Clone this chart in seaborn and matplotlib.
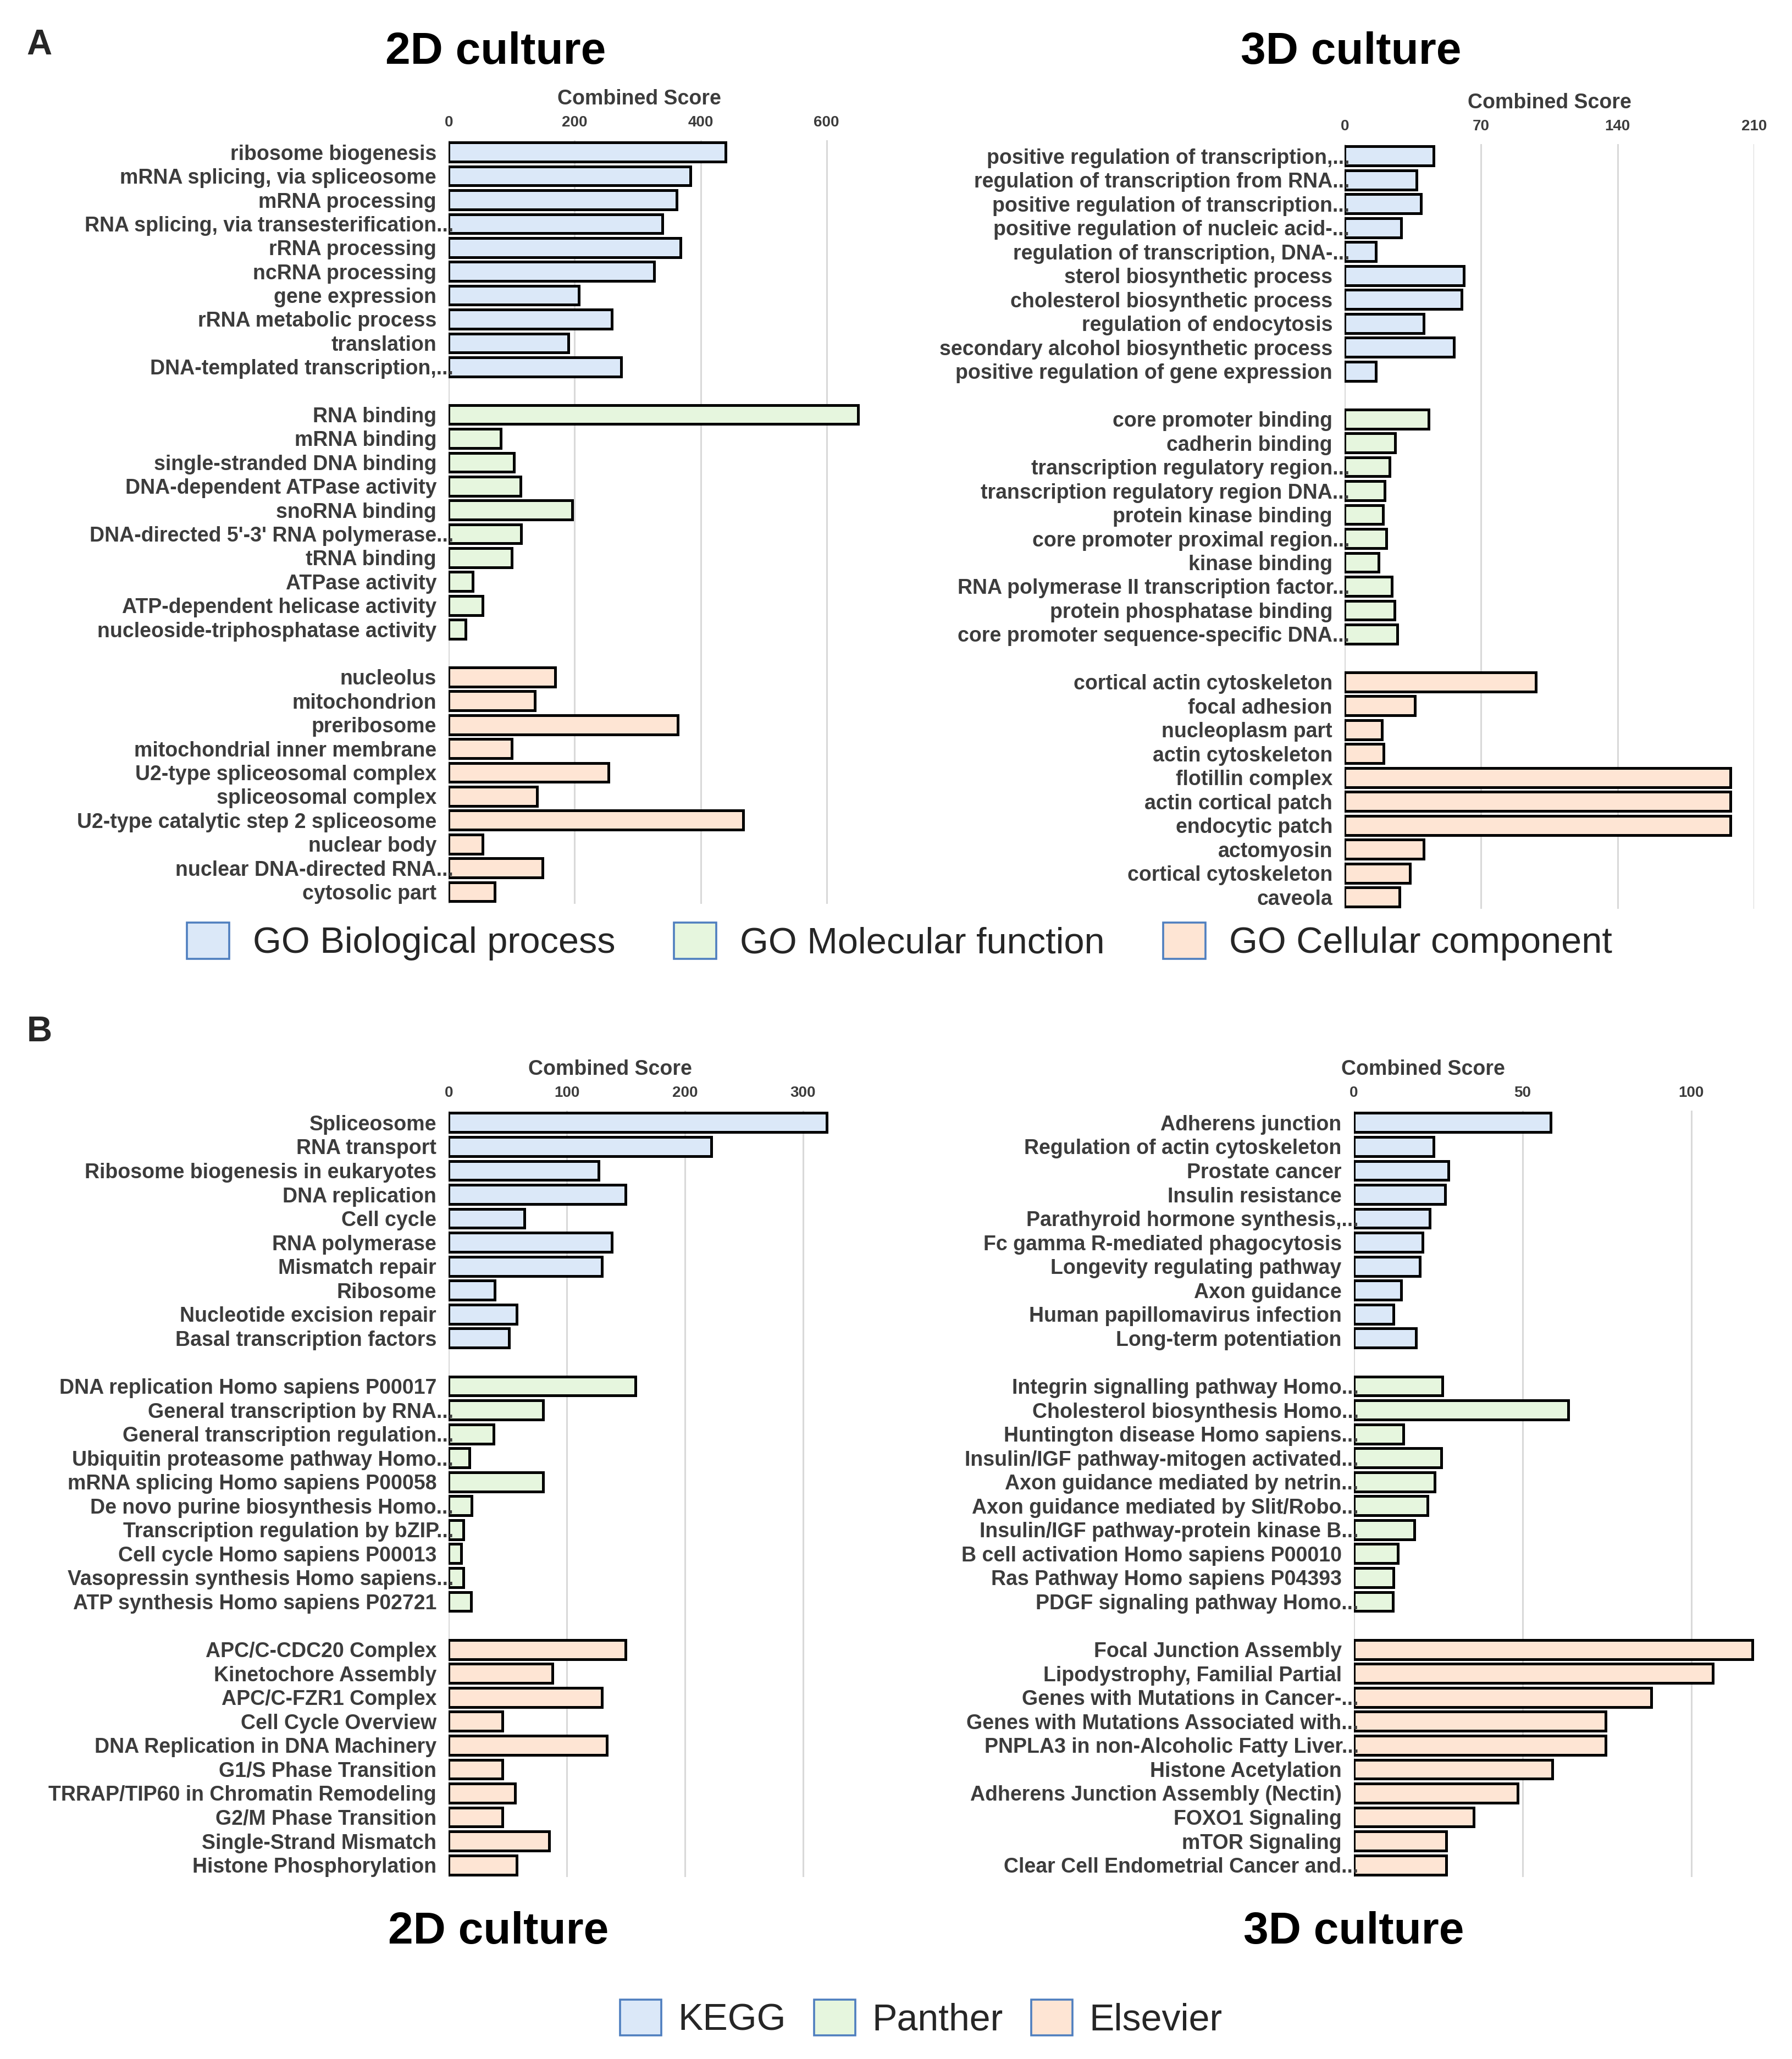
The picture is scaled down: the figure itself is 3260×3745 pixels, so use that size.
import matplotlib
matplotlib.use("Agg")
import matplotlib.pyplot as plt
import matplotlib.transforms as mtransforms
from matplotlib.patches import Patch
import numpy as np
import pandas as pd
import seaborn as sns

# ---------------- DATA ----------------
# Panel A, 2D culture
a2d_bp_terms = ["ribosome biogenesis", "mRNA splicing, via spliceosome", "mRNA processing",
                "RNA splicing, via transesterification...", "rRNA processing", "ncRNA processing",
                "gene expression", "rRNA metabolic process", "translation", "DNA-templated transcription,..."]
a2d_bp_scores = [440, 384, 362, 339, 368, 326, 207, 259, 190, 274]
a2d_mf_terms = ["RNA binding", "mRNA binding", "single-stranded DNA binding", "DNA-dependent ATPase activity",
                "snoRNA binding", "DNA-directed 5'-3' RNA polymerase...", "tRNA binding", "ATPase activity",
                "ATP-dependent helicase activity", "nucleoside-triphosphatase activity"]
a2d_mf_scores = [650, 83, 104, 114, 196, 115, 100, 38, 54, 27]
a2d_cc_terms = ["nucleolus", "mitochondrion", "preribosome", "mitochondrial inner membrane",
                "U2-type spliceosomal complex", "spliceosomal complex", "U2-type catalytic step 2 spliceosome",
                "nuclear body", "nuclear DNA-directed RNA...", "cytosolic part"]
a2d_cc_scores = [169, 137, 364, 100, 254, 140, 468, 54, 149, 73]
a2d_ticks = [0, 200, 400, 600]

# Panel A, 3D culture
a3d_bp_terms = ["positive regulation of transcription,...", "regulation of transcription from RNA...",
                "positive regulation of transcription...", "positive regulation of nucleic acid-...",
                "regulation of transcription, DNA-...", "sterol biosynthetic process",
                "cholesterol biosynthetic process", "regulation of endocytosis",
                "secondary alcohol biosynthetic process", "positive regulation of gene expression"]
a3d_bp_scores = [45.5, 37, 39, 29, 16, 61, 60, 40.5, 56, 16]
a3d_mf_terms = ["core promoter binding", "cadherin binding", "transcription regulatory region...",
                "transcription regulatory region DNA...", "protein kinase binding",
                "core promoter proximal region...", "kinase binding",
                "RNA polymerase II transcription factor...", "protein phosphatase binding",
                "core promoter sequence-specific DNA..."]
a3d_mf_scores = [43, 26, 23, 20.5, 19.6, 21.4, 17.3, 24.3, 25.5, 27]
a3d_cc_terms = ["cortical actin cytoskeleton", "focal adhesion", "nucleoplasm part", "actin cytoskeleton",
                "flotillin complex", "actin cortical patch", "endocytic patch", "actomyosin",
                "cortical cytoskeleton", "caveola"]
a3d_cc_scores = [98, 36, 19, 20, 198, 198, 198, 40.5, 33.4, 28]
a3d_ticks = [0, 70, 140, 210]

# Panel B, 2D culture
b2d_kegg_terms = ["Spliceosome", "RNA transport", "Ribosome biogenesis in eukaryotes", "DNA replication",
                  "Cell cycle", "RNA polymerase", "Mismatch repair", "Ribosome",
                  "Nucleotide excision repair", "Basal transcription factors"]
b2d_kegg_scores = [320, 222.5, 127, 150, 64, 138, 130, 39, 57.5, 51]
b2d_panther_terms = ["DNA replication Homo sapiens P00017", "General transcription by RNA...",
                     "General transcription regulation...", "Ubiquitin proteasome pathway Homo...",
                     "mRNA splicing Homo sapiens P00058", "De novo purine biosynthesis Homo...",
                     "Transcription regulation by bZIP...", "Cell cycle Homo sapiens P00013",
                     "Vasopressin synthesis Homo sapiens...", "ATP synthesis Homo sapiens P02721"]
b2d_panther_scores = [158, 80, 38, 17.4, 80, 19.4, 12.6, 10.6, 12.6, 19]
b2d_els_terms = ["APC/C-CDC20 Complex", "Kinetochore Assembly", "APC/C-FZR1 Complex", "Cell Cycle Overview",
                 "DNA Replication in DNA Machinery", "G1/S Phase Transition",
                 "TRRAP/TIP60 in Chromatin Remodeling", "G2/M Phase Transition", "Single-Strand Mismatch",
                 "Histone Phosphorylation"]
b2d_els_scores = [150, 88, 130, 45.5, 134, 45.5, 56, 45.5, 85, 57.5]
b2d_ticks = [0, 100, 200, 300]

# Panel B, 3D culture
b3d_kegg_terms = ["Adherens junction", "Regulation of actin cytoskeleton", "Prostate cancer",
                  "Insulin resistance", "Parathyroid hormone synthesis,...", "Fc gamma R-mediated phagocytosis",
                  "Longevity regulating pathway", "Axon guidance", "Human papillomavirus infection",
                  "Long-term potentiation"]
b3d_kegg_scores = [58.4, 23.7, 28, 27, 22.5, 20.3, 19.6, 14, 11.8, 18.4]
b3d_panther_terms = ["Integrin signalling pathway Homo...", "Cholesterol biosynthesis Homo...",
                     "Huntington disease Homo sapiens...", "Insulin/IGF pathway-mitogen activated...",
                     "Axon guidance mediated by netrin...", "Axon guidance mediated by Slit/Robo...",
                     "Insulin/IGF pathway-protein kinase B...", "B cell activation Homo sapiens P00010",
                     "Ras Pathway Homo sapiens P04393", "PDGF signaling pathway Homo..."]
b3d_panther_scores = [26.2, 63.5, 14.7, 25.9, 24, 21.8, 18, 13.1, 11.8, 11.6]
b3d_els_terms = ["Focal Junction Assembly", "Lipodystrophy, Familial Partial", "Genes with Mutations in Cancer-...",
                 "Genes with Mutations Associated with...", "PNPLA3 in non-Alcoholic Fatty Liver...",
                 "Histone Acetylation", "Adherens Junction Assembly (Nectin)", "FOXO1 Signaling",
                 "mTOR Signaling", "Clear Cell Endometrial Cancer and..."]
b3d_els_scores = [118.2, 106.5, 88.2, 74.6, 74.6, 58.8, 48.6, 35.6, 27.4, 27.4]
b3d_ticks = [0, 50, 100]

go_sources = ["GO Biological process", "GO Molecular function", "GO Cellular component"]
db_sources = ["KEGG", "Panther", "Elsevier"]
fill_colors = ["#dbe8f8", "#e6f6de", "#fee5d4"]

# ---------------- STYLE ----------------
sns.set_theme(style="white")
plt.rcParams["font.family"] = ["Liberation Sans", "DejaVu Sans"]

LABEL_COLOR = "#3c3c3c"
GRID_COLOR = "#d9d9d9"

fig = plt.figure(figsize=(32.6, 37.45), dpi=100)


def make_df(groups, sources):
    rows = []
    order = []
    for gi, (terms, scores) in enumerate(groups):
        for t, s in zip(terms, scores):
            rows.append({"term": t, "score": s, "source": sources[gi]})
        order.extend(terms)
        if gi < len(groups) - 1:
            order.append(" " * (gi + 1))
    return pd.DataFrame(rows), order


def draw_panel(rect, groups, sources, ticks, xmax, label_x):
    ax = fig.add_axes(rect)
    df, order = make_df(groups, sources)
    pal = dict(zip(sources, fill_colors))
    sns.barplot(data=df, x="score", y="term", hue="source", order=order, hue_order=sources,
                palette=pal, dodge=False, width=0.8, edgecolor="black", linewidth=3.6,
                saturation=1, legend=False, ax=ax, orient="h")
    ax.set_xlim(0, xmax)
    ax.set_ylim(len(order) - 0.5, -0.5)
    ax.xaxis.tick_top()
    ax.xaxis.set_label_position("top")
    ax.set_xticks(ticks)
    ax.set_xticklabels([str(t) for t in ticks])
    ax.set_xlabel("Combined Score", fontsize=27, fontweight="bold", color=LABEL_COLOR, labelpad=14)
    ax.xaxis.label.set_x(label_x)
    ax.set_ylabel("")
    ax.tick_params(axis="x", length=0, pad=14, labelsize=20, labelcolor=LABEL_COLOR)
    ax.tick_params(axis="y", length=0, pad=16, labelsize=27, labelcolor=LABEL_COLOR)
    for lab in ax.get_xticklabels():
        lab.set_fontweight("bold")
    shift = mtransforms.ScaledTranslation(0.31, 0, fig.dpi_scale_trans)
    for lab in ax.get_yticklabels():
        lab.set_fontweight("bold")
        if lab.get_text().endswith("..."):
            lab.set_transform(lab.get_transform() + shift)
    ax.grid(False)
    for t in ticks:
        ax.axvline(t, color=GRID_COLOR, linewidth=2.2, zorder=0)
    for sp in ax.spines.values():
        sp.set_visible(False)
    ax.set_axisbelow(False)
    ax.yaxis.set_zorder(5)
    return ax


draw_panel([0.2504, 0.5611, 0.2337, 0.3708],
           [(a2d_bp_terms, a2d_bp_scores), (a2d_mf_terms, a2d_mf_scores), (a2d_cc_terms, a2d_cc_scores)],
           go_sources, a2d_ticks, 665, 0.455)
draw_panel([0.7504, 0.5585, 0.2284, 0.3715],
           [(a3d_bp_terms, a3d_bp_scores), (a3d_mf_terms, a3d_mf_scores), (a3d_cc_terms, a3d_cc_scores)],
           go_sources, a3d_ticks, 210, 0.50)
draw_panel([0.2504, 0.0884, 0.2141, 0.3722],
           [(b2d_kegg_terms, b2d_kegg_scores), (b2d_panther_terms, b2d_panther_scores),
            (b2d_els_terms, b2d_els_scores)],
           db_sources, b2d_ticks, 325, 0.42)
draw_panel([0.7555, 0.0884, 0.2240, 0.3722],
           [(b3d_kegg_terms, b3d_kegg_scores), (b3d_panther_terms, b3d_panther_scores),
            (b3d_els_terms, b3d_els_scores)],
           db_sources, b3d_ticks, 119, 0.173)

# Titles and panel letters
title_kw = dict(ha="center", va="center", fontsize=59, fontweight="bold", color="black")
fig.text(0.2767, 0.9745, "2D culture", **title_kw)
fig.text(0.7540, 0.9745, "3D culture", **title_kw)
fig.text(0.2782, 0.0618, "2D culture", **title_kw)
fig.text(0.7555, 0.0618, "3D culture", **title_kw)
fig.text(0.022, 0.978, "A", ha="center", va="center", fontsize=46, fontweight="bold")
fig.text(0.022, 0.4987, "B", ha="center", va="center", fontsize=46, fontweight="bold")

# Legends
EDGE = "#4f7fbf"
hA = [Patch(facecolor=c, edgecolor=EDGE, linewidth=2.6) for c in fill_colors]
fig.legend(hA, go_sources, loc="center", bbox_to_anchor=(0.502, 0.5427), ncol=3, frameon=False,
           fontsize=48, handlelength=1.15, handleheight=1.15, handletextpad=0.65, columnspacing=1.6)
hB = [Patch(facecolor=c, edgecolor=EDGE, linewidth=2.6) for c in fill_colors]
fig.legend(hB, db_sources, loc="center", bbox_to_anchor=(0.514, 0.0195), ncol=3, frameon=False,
           fontsize=49, handlelength=1.1, handleheight=1.1, handletextpad=0.45, columnspacing=0.75)

fig.savefig("out.png", dpi=100, facecolor="white")
